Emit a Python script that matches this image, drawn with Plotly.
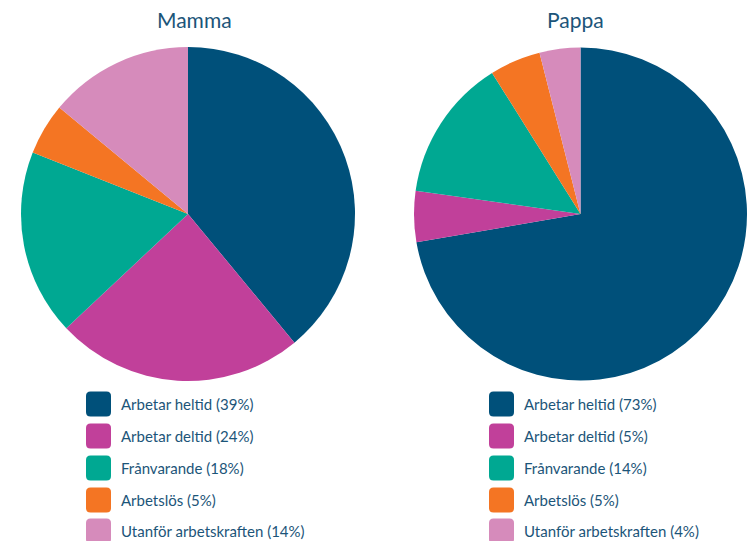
import plotly.graph_objects as go

categories = ["Arbetar heltid", "Arbetar deltid", "Frånvarande", "Arbetslös", "Utanför arbetskraften"]
mamma_values = [39, 24, 18, 5, 14]
pappa_values = [73, 5, 14, 5, 4]
colors = ["#00507a", "#c1409a", "#00a892", "#f47523", "#d68bbb"]
titles = ["Mamma", "Pappa"]

TEXT_COLOR = "#1c5579"
FONT = "Lato"

# page body has an 8px margin; visible area is 8..747 x 8..541
OFF = 8
W, H = 755 - 2 * OFF, 549 - 2 * OFF


def px(x):
    return (x - OFF) / W


def py(y):
    return 1 - (y - OFF) / H


fig = go.Figure()

domains = [dict(x=[px(21), px(355)], y=[py(381), py(47)]),
           dict(x=[px(414), px(747)], y=[py(381), py(47)])]

for vals, dom, name in zip([mamma_values, pappa_values], domains, titles):
    fig.add_trace(go.Pie(
        labels=categories, values=vals, name=name,
        marker=dict(colors=colors, line=dict(width=0)),
        sort=False, direction="clockwise", rotation=0,
        textinfo="none", domain=dom, showlegend=False,
    ))

# titles
for xc, t in zip([194.5, 575], titles):
    fig.add_annotation(x=px(xc), y=py(19), xref="paper", yref="paper",
                       text=t, showarrow=False, xanchor="center", yanchor="middle",
                       font=dict(family=FONT, size=21, color=TEXT_COLOR))


def rounded_square(half, r):
    h = half
    return (f"M{-h + r},{-h} L{h - r},{-h} Q{h},{-h} {h},{-h + r} "
            f"L{h},{h - r} Q{h},{h} {h - r},{h} L{-h + r},{h} Q{-h},{h} {-h},{h - r} "
            f"L{-h},{-h + r} Q{-h},{-h} {-h + r},{-h} Z")


row_y = [404, 436, 468, 500, 531]
for vals, sq_x, tx_x in zip([mamma_values, pappa_values], [98.5, 501.5], [119, 522]):
    for i, (cat, v, c) in enumerate(zip(categories, vals, colors)):
        yc = py(row_y[i])
        fig.add_shape(type="path", xref="paper", yref="paper",
                      xsizemode="pixel", ysizemode="pixel",
                      xanchor=px(sq_x), yanchor=yc,
                      path=rounded_square(12.5, 4.5),
                      fillcolor=c, line=dict(width=0))
        fig.add_annotation(x=px(tx_x), y=yc, xref="paper", yref="paper",
                           text=f"{cat} ({v}%)", showarrow=False,
                           xanchor="left", yanchor="middle",
                           font=dict(family=FONT, size=15, color=TEXT_COLOR))

fig.update_layout(
    width=W, height=H,
    margin=dict(l=0, r=0, t=0, b=0),
    paper_bgcolor="white", plot_bgcolor="white",
    showlegend=False,
)

fig.write_html("out.html")
